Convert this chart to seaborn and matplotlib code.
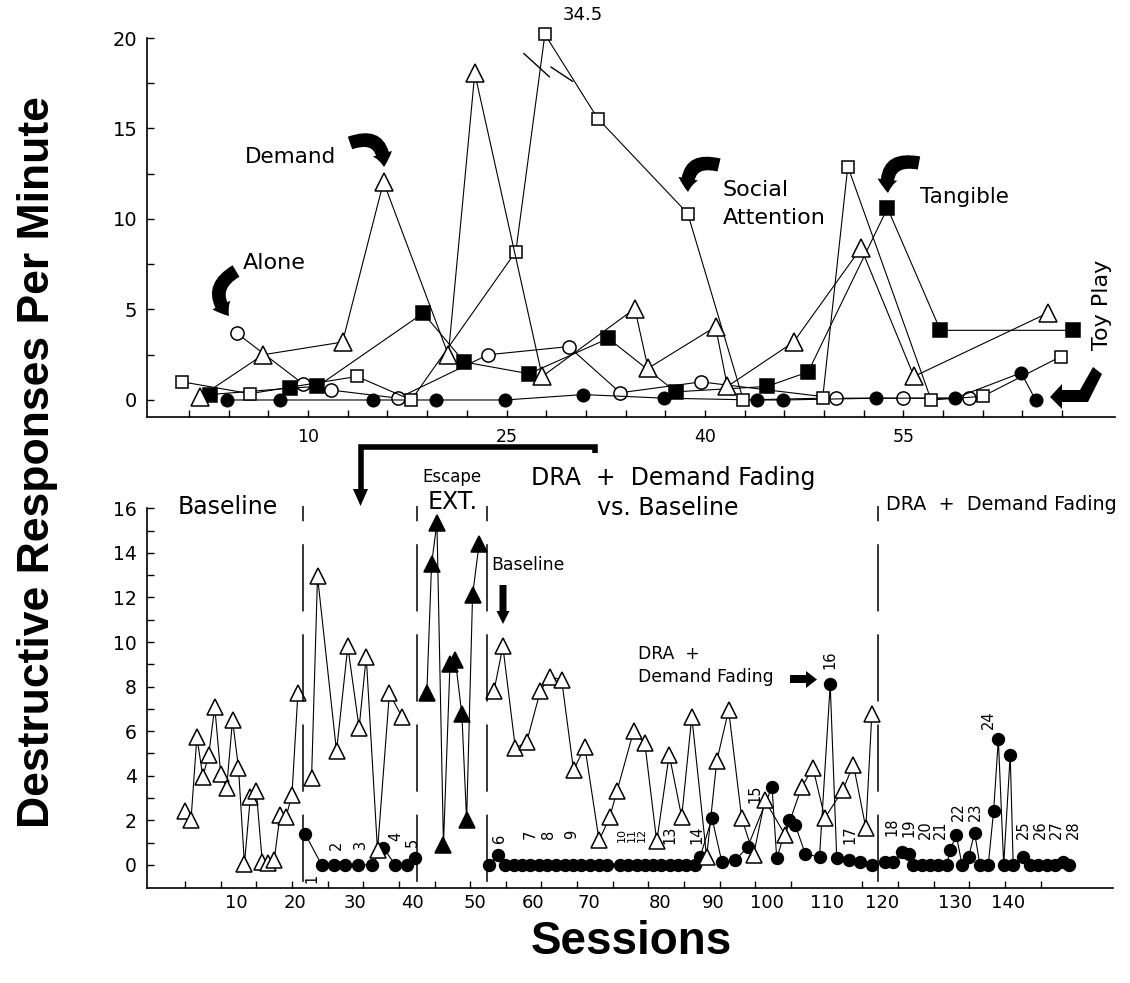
import matplotlib
matplotlib.use("Agg")
import matplotlib.pyplot as plt
import seaborn as sns
import numpy as np
from matplotlib.patches import FancyArrowPatch, Polygon
from matplotlib.lines import Line2D

# ---------------- top panel: functional analysis ----------------
alone_sessions = [4.6, 9.6, 11.7, 16.8, 23.6, 29.7, 33.6, 39.7, 49.9, 55.0, 60.0]
alone_rate = [3.7, 0.9, 0.55, 0.1, 2.5, 2.95, 0.4, 1.0, 0.1, 0.1, 0.1]

demand_sessions = [1.8, 6.6, 12.6, 15.7, 20.6, 22.6, 27.7, 34.7, 35.7, 40.8, 41.7, 46.7, 51.8, 55.8, 65.9]
demand_rate = [0.15, 2.5, 3.2, 12.05, 2.5, 18.05, 1.3, 5.05, 1.75, 4.05, 0.75, 3.2, 8.4, 1.3, 4.8]

social_sessions = [0.5, 5.6, 13.7, 17.8, 25.7, 27.9, 31.9, 38.7, 42.9, 48.9, 50.8, 57.1, 61.0, 66.9]
social_rate = [1.0, 0.35, 1.3, 0.0, 8.2, 34.5, 15.55, 10.3, 0.0, 0.1, 12.9, 0.0, 0.2, 2.4]

tangible_sessions = [2.6, 8.6, 10.7, 18.7, 21.8, 26.7, 32.7, 37.8, 44.7, 47.8, 53.8, 57.8, 67.8]
tangible_rate = [0.3, 0.65, 0.75, 4.8, 2.1, 1.45, 3.4, 0.45, 0.75, 1.55, 10.6, 3.85, 3.85]

toy_sessions = [3.9, 7.9, 14.9, 19.7, 24.9, 30.8, 36.9, 43.9, 45.9, 52.9, 58.9, 63.9, 65.0]
toy_rate = [0.0, 0.0, 0.0, 0.0, 0.0, 0.3, 0.1, 0.0, 0.0, 0.1, 0.1, 1.5, 0.0]

top_cap = 20.2  # values above this are drawn at the break

# ---------------- bottom panel: treatment ----------------
baseline_a_sessions = list(range(1, 21))
baseline_a_rate = [2.4, 2.0, 5.75, 3.95, 4.95, 7.1, 4.1, 3.45, 6.5, 4.35,
                   0.05, 3.05, 3.3, 0.15, 0.1, 0.2, 2.25, 2.15, 3.15, 7.7]

baseline_b_sessions = [22.3, 23.3, 26.5, 28.4, 30.3, 31.5, 33.4, 35.4, 37.5]
baseline_b_rate = [3.9, 12.95, 5.1, 9.8, 6.15, 9.35, 0.65, 7.7, 6.65]

dra_b_sessions = [21.2, 24.0, 26.0, 27.9, 30.2, 32.4, 34.4, 36.4, 38.3, 39.7]
dra_b_rate = [1.4, 0, 0, 0, 0, 0, 0.75, 0, 0, 0.3]

ext_sessions = [41.7, 42.5, 43.4, 44.5, 45.6, 46.5, 47.6, 48.4, 49.4, 50.5]
ext_rate = [7.7, 13.5, 15.35, 0.9, 9.0, 9.2, 6.75, 2.0, 12.1, 14.4]

baseline_c_sessions = [53.0, 54.5, 56.6, 58.5, 60.8, 62.4, 64.4, 66.4, 68.3, 70.7,
                       72.5, 73.7, 76.5, 78.4, 80.4, 82.5, 84.6, 86.3, 88.8, 90.5,
                       92.5, 94.7, 96.7, 98.6, 102.0, 104.8, 106.7, 108.7, 111.7, 113.5,
                       115.6, 116.6]
baseline_c_rate = [7.8, 9.8, 5.25, 5.5, 7.8, 8.45, 8.3, 4.25, 5.3, 1.1,
                   2.15, 3.3, 6.0, 5.45, 1.05, 4.95, 2.15, 6.65, 0.35, 4.65,
                   6.95, 2.1, 0.45, 2.9, 1.35, 3.5, 4.35, 2.1, 3.35, 4.5,
                   1.65, 6.75]

dra_c_sessions = [52.2, 53.6, 54.9, 56.3, 57.7, 59.1, 60.6, 62.0, 63.4, 64.9,
                  66.3, 67.7, 69.1, 70.6, 72.0, 74.2, 75.6, 77.0, 78.4, 79.8,
                  81.2, 82.6, 84.0, 85.4, 86.9, 87.7, 89.7, 91.35, 93.6, 95.7,
                  99.8, 100.6, 102.6, 103.7, 105.4, 107.8, 109.6, 110.7, 112.7, 114.6,
                  116.6]
dra_c_rate = [0, 0.45, 0, 0, 0, 0, 0, 0, 0, 0,
              0, 0, 0, 0, 0, 0, 0, 0, 0, 0,
              0, 0, 0, 0, 0, 0.35, 2.1, 0.15, 0.2, 0.8,
              3.5, 0.3, 2.0, 1.8, 0.5, 0.35, 8.1, 0.3, 0.2, 0.15,
              0.0]

dra_d_sessions = [118.8, 120.2, 121.7, 122.8, 123.6, 125.0, 126.4, 127.8, 129.2, 129.8,
                  130.8, 131.8, 132.9, 133.9, 134.8, 136.2, 137.1, 137.9, 138.8, 139.9,
                  140.4, 142.0, 143.3, 144.6, 146.1, 147.5, 148.7, 149.8]
dra_d_rate = [0.15, 0.15, 0.6, 0.5, 0, 0, 0, 0, 0, 0.65,
              1.35, 0, 0.35, 1.45, 0, 0, 2.4, 5.65, 0, 4.95,
              0, 0.35, 0, 0, 0, 0, 0.15, 0]

phase_changes = [20.8, 40.1, 51.8, 117.7]

step_names = [str(i) for i in range(1, 29)]
step_sessions = [22.3, 26.5, 30.5, 36.4, 39.2, 54.0, 59.1, 62.2, 66.1, 74.5,
                 76.2, 77.9, 82.6, 87.2, 97.0, 109.6, 113.0, 120.0, 122.8, 125.6,
                 128.1, 131.2, 134.0, 136.3, 142.1, 144.9, 147.7, 150.5]
step_heights = [-0.6, 0.9, 0.9, 1.3, 1.0, 1.2, 1.35, 1.35, 1.35, 1.35,
                1.35, 1.35, 1.35, 1.35, 3.2, 9.2, 1.35, 1.7, 1.65, 1.6,
                1.6, 2.4, 2.4, 6.5, 1.6, 1.6, 1.6, 1.6]

bottom_tick_names = [str(v) for v in range(10, 150, 10)]
bottom_tick_at = [9.7, 19.5, 29.6, 39.2, 49.8, 59.6, 68.9, 81.0, 89.9, 98.9,
                  109.0, 118.3, 130.6, 139.6]

# ---------------- figure ----------------
sns.set_style("ticks")
plt.rcParams["font.family"] = ["DejaVu Sans"]
plt.rcParams.update({"text.color": "black", "axes.edgecolor": "black",
                     "xtick.color": "black", "ytick.color": "black",
                     "axes.labelcolor": "black"})

W, H = 1130, 983
fig = plt.figure(figsize=(W / 100, H / 100), dpi=100)


def fx(x):
    return x / W


def fy(y):
    return 1 - y / H


def series(ax, x, y, marker, filled, ms):
    sns.lineplot(x=x, y=y, ax=ax, color="black", linewidth=0.8, marker=marker,
                 markersize=ms, markerfacecolor="black" if filled else "white",
                 markeredgecolor="black", markeredgewidth=1.1, estimator=None,
                 sort=False, legend=False, clip_on=False)


def style_axes(ax):
    sns.despine(ax=ax)
    for s in ("left", "bottom"):
        ax.spines[s].set_linewidth(1.2)
    ax.tick_params(which="both", direction="in", length=5, width=1.0)
    ax.set_xlabel("")
    ax.set_ylabel("")


ax1 = fig.add_axes([fx(147), fy(417), (1115 - 147) / W, (417 - 38) / H])
series(ax1, alone_sessions, alone_rate, "o", False, 9.5)
series(ax1, tangible_sessions, tangible_rate, "s", True, 9.5)
series(ax1, toy_sessions, toy_rate, "o", True, 9)
series(ax1, social_sessions, list(np.minimum(social_rate, top_cap)), "s", False, 9)
series(ax1, demand_sessions, demand_rate, "^", False, 12.5)
ax1.set_xlim(-2.18, 71.0)
ax1.set_ylim(-0.94, 20)
style_axes(ax1)
ax1.set_xticks([10, 25, 40, 55])
ax1.set_xticks(np.arange(1, 68, 3), minor=True)
ax1.set_yticks([0, 5, 10, 15, 20])
ax1.set_yticks([2.5, 7.5, 12.5, 17.5], minor=True)
ax1.tick_params(axis="x", labelsize=12.5, pad=8)
ax1.tick_params(axis="y", labelsize=14, pad=7)

# axis break on the social attention line
for (xa, ya), (xb, yb) in [((26.3, 19.15), (28.25, 17.85)), ((28.35, 18.4), (30.0, 17.6))]:
    ax1.plot([xa, xb], [ya, yb], color="black", lw=1.0, clip_on=False)
ax1.text(social_sessions[5] + 2.9, 21.25, f"{max(social_rate):g}", fontsize=13,
         ha="center", va="center", clip_on=False)

ax2 = fig.add_axes([fx(146.7), fy(888.3), (1113 - 146.7) / W, (888.3 - 508.3) / H])
series(ax2, baseline_a_sessions, baseline_a_rate, "^", False, 11.5)
series(ax2, dra_b_sessions, dra_b_rate, "o", True, 8.5)
series(ax2, baseline_b_sessions, baseline_b_rate, "^", False, 11.5)
series(ax2, ext_sessions, ext_rate, "^", True, 11.5)
series(ax2, dra_c_sessions, dra_c_rate, "o", True, 8.5)
series(ax2, baseline_c_sessions, baseline_c_rate, "^", False, 11.5)
series(ax2, dra_d_sessions, dra_d_rate, "o", True, 8.5)
ax2.set_xlim(-5.45, 157.2)
ax2.set_ylim(-1.05, 16)
style_axes(ax2)
for p in phase_changes:
    ax2.plot([p, p], [16.1, -1.05], color="black", lw=1.1, ls=(34, (44, 15)), clip_on=False)
ax2.set_xticks(bottom_tick_at, bottom_tick_names)
ax2.set_xticks(np.arange(1, 150, 6), minor=True)
ax2.tick_params(axis="x", which="major", length=0, labelsize=13, pad=4)
ax2.set_yticks(np.arange(0, 17, 2))
ax2.set_yticks(np.arange(1, 16, 2), minor=True)
ax2.tick_params(axis="y", labelsize=13.5, pad=7)

for name, s, h in zip(step_names, step_sessions, step_heights):
    size = 8 if name in ("10", "11", "12") else 10.5
    ax2.text(s, h, name, rotation=90, fontsize=size, ha="center", va="center")


# ---------------- text annotations ----------------
def ftext(x, y, s, size, ha="center", **kw):
    fig.text(fx(x), fy(y), s, fontsize=size, ha=ha, va="center", **kw)


ftext(245, 157, "Demand", 15.5, ha="left")
ftext(243, 263, "Alone", 16, ha="left")
ftext(723, 190, "Social", 16, ha="left")
ftext(723, 218, "Attention", 16, ha="left")
ftext(920, 197, "Tangible", 15.5, ha="left")
ftext(1102, 305, "Toy Play", 16, rotation=90)

ftext(228, 507, "Baseline", 17)
ftext(452, 477, "Escape", 12)
ftext(453, 502, "EXT.", 17)
ftext(673, 478, "DRA  +  Demand Fading", 17)
ftext(668, 508, "vs. Baseline", 17)
ftext(886, 505, "DRA  +  Demand Fading", 13.8, ha="left")
ftext(528, 565, "Baseline", 12.4)
ftext(638, 654, "DRA  +", 12.4, ha="left")
ftext(638, 677, "Demand Fading", 12.4, ha="left")

fig.text(fx(38), fy(462), "Destructive Responses Per Minute", rotation=90, fontsize=32,
         fontweight="bold", family="Liberation Sans", ha="center", va="center")
fig.text(fx(631), fy(942), "Sessions", fontsize=33, fontweight="bold",
         family="Liberation Sans", ha="center", va="center")


# ---------------- arrows ----------------
def curved_arrow(tail, head, rad):
    fig.add_artist(FancyArrowPatch(
        posA=(fx(tail[0]), fy(tail[1])), posB=(fx(head[0]), fy(head[1])),
        transform=fig.transFigure, connectionstyle=f"arc3,rad={rad}",
        arrowstyle="simple,head_length=0.8,head_width=1.2,tail_width=0.8",
        mutation_scale=12, color="black", lw=0, shrinkA=0, shrinkB=0))


def shape(points):
    fig.add_artist(Polygon([(fx(x), fy(y)) for x, y in points], closed=True,
                           transform=fig.transFigure, color="black", lw=0))


curved_arrow((350, 143), (384, 167), -0.7)
curved_arrow((236, 271), (229, 316), 0.6)
curved_arrow((719, 165), (688, 192), 0.7)
curved_arrow((919, 163), (888, 193), 0.7)

# toy play bent arrow
shape([(1050, 397), (1062, 384), (1062, 390), (1080, 390), (1093, 367),
       (1102, 374), (1088, 402), (1062, 402), (1062, 409)])
# bracket linking the panels
fig.add_artist(Line2D([fx(595), fx(595), fx(360.5), fx(360.5)],
                      [fy(453), fy(447), fy(447), fy(492)],
                      transform=fig.transFigure, color="black", lw=4,
                      solid_joinstyle="miter", solid_capstyle="butt"))
shape([(353, 489), (368, 489), (360.5, 506)])
# small baseline arrow
shape([(499.5, 585), (506.5, 585), (506.5, 611), (509.5, 611), (503, 624),
       (496.5, 611), (499.5, 611)])
# right arrow toward step 16
shape([(790, 675), (806, 675), (806, 671), (817, 679.5), (806, 688),
       (806, 683), (790, 683)])

fig.savefig("out.png", dpi=100)
